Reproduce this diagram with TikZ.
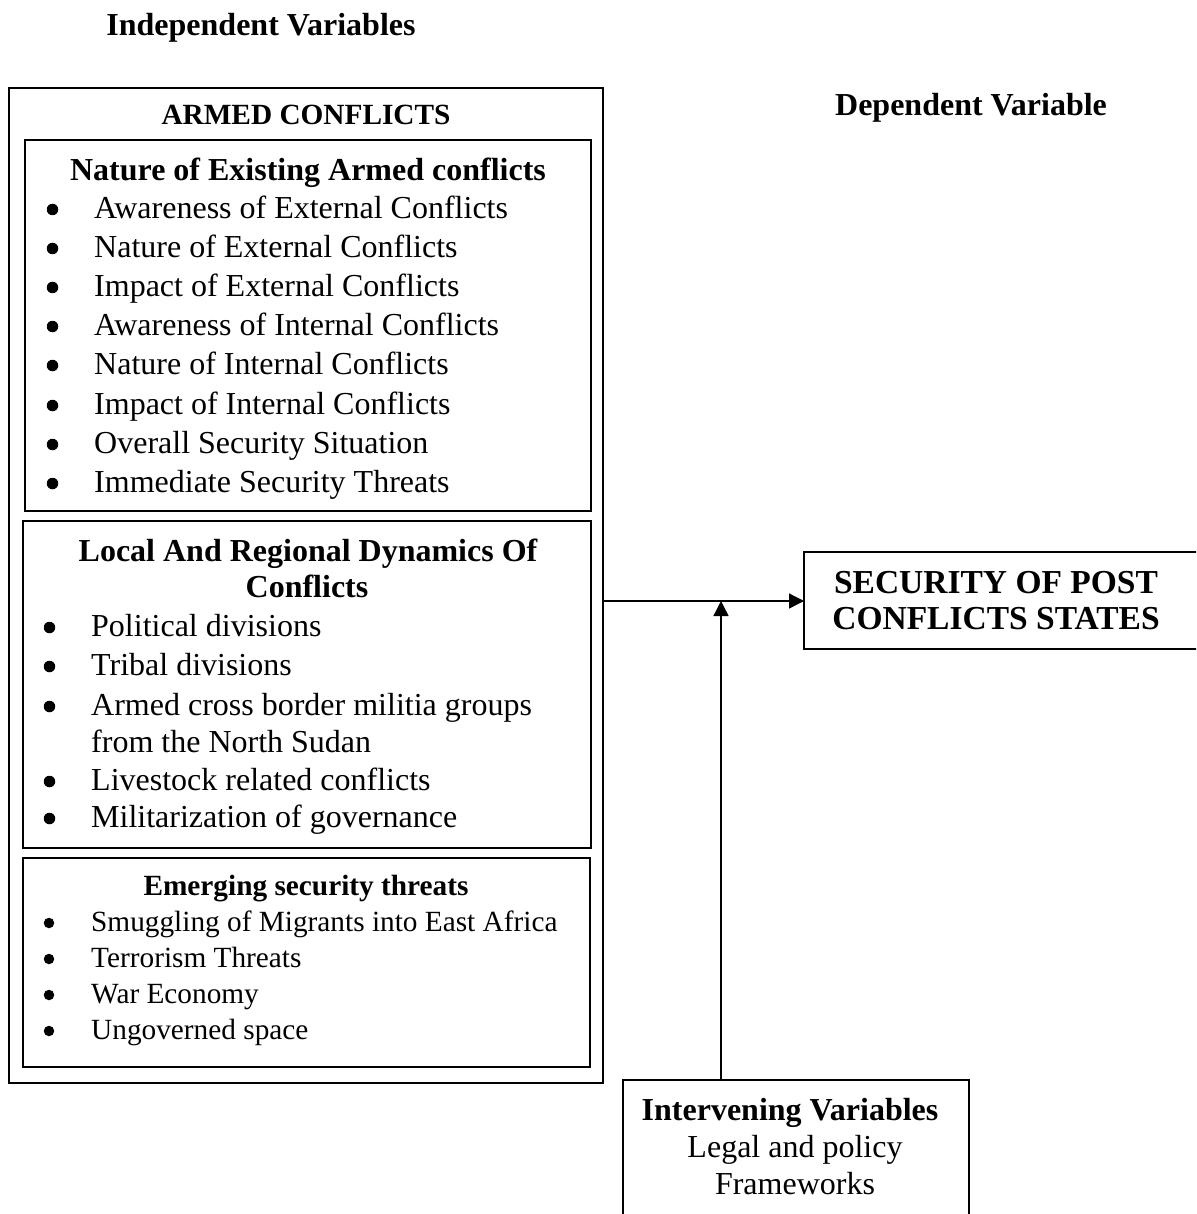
\documentclass[tikz,border=0pt]{standalone}
\usepackage{fontspec}
\setmainfont{Liberation Serif}
\usetikzlibrary{arrows.meta}
\begin{document}
\begin{tikzpicture}[x=1pt,y=-1pt,
  box/.style={draw, line width=1.3pt, inner sep=0pt, outer sep=0pt, anchor=north west},
  ta/.style={font=\fontsize{32}{38}\selectfont, inner sep=0pt, anchor=base west},
  tac/.style={font=\fontsize{32}{38}\selectfont\bfseries, inner sep=0pt, anchor=base},
  tb/.style={font=\fontsize{29.3}{35}\selectfont, inner sep=0pt, anchor=base west},
  tbc/.style={font=\fontsize{29.3}{35}\selectfont\bfseries, inner sep=0pt, anchor=base},
  bula/.style={circle, fill=black, draw=none, inner sep=0pt, minimum size=11.5pt},
  bulb/.style={circle, fill=black, draw=none, inner sep=0pt, minimum size=10.5pt},
  tsec/.style={font=\fontsize{33.5}{36}\selectfont\bfseries, inner sep=0pt, anchor=base},
  arr/.style={line width=1.3pt, -{Triangle[length=15pt,width=15pt]}}
]
\clip (0,0) rectangle (1196,1214);
\useasboundingbox (0,0) rectangle (1196,1214);

% boxes
\node[box, minimum width=594pt, minimum height=995pt] (outer) at (9,88) {};
\node[box, minimum width=566pt, minimum height=371pt] (boxa) at (25,140) {};
\node[box, minimum width=568pt, minimum height=327pt] (boxb) at (23,521) {};
\node[box, minimum width=567pt, minimum height=209pt] (boxc) at (23,858) {};
\node[box, minimum width=420pt, minimum height=97pt] (sec) at (804,552) {};
\node[box, minimum width=346pt, minimum height=160pt] (intv) at (623,1080) {};

% headings
\node[tac] (indep) at (261,25+10.5) {Independent Variables};
\node[tac] (dep) at (971,105+10.5) {Dependent Variable};
\node[tbc] (armed) at (306,115+9.7) {ARMED CONFLICTS};

% box a
\node[tac] (atitle) at (308,170+10.5) {Nature of Existing Armed conflicts};
\foreach [count=\i] \t/\y in {Awareness of External Conflicts/208,
  Nature of External Conflicts/247,
  Impact of External Conflicts/286,
  Awareness of Internal Conflicts/325,
  Nature of Internal Conflicts/364,
  Impact of Internal Conflicts/404,
  Overall Security Situation/443,
  Immediate Security Threats/482} {
  \node[bula] (ab\i) at (52.5,\y+1.5) {};
  \node[ta] (at\i) at (94,\y+10.5) {\t};
}

% box b
\node[tac] (btitle1) at (308,551+10.5) {Local And Regional Dynamics Of};
\node[tac] (btitle2) at (307,587+10.5) {Conflicts};
\foreach [count=\i] \t/\y in {Political divisions/626,
  Tribal divisions/665,
  Armed cross border militia groups/705,
  Livestock related conflicts/780,
  Militarization of governance/817} {
  \node[bula] (bb\i) at (49.5,\y+1.5) {};
  \node[ta] (bt\i) at (91,\y+10.5) {\t};
}
\node[ta] (bt3b) at (91,742+10.5) {from the North Sudan};

% box c
\node[tbc] (ctitle) at (306,886+9.7) {Emerging security threats};
\foreach [count=\i] \t/\y in {Smuggling of Migrants into East Africa/922,
  Terrorism Threats/958,
  War Economy/994,
  Ungoverned space/1030} {
  \node[bulb] (cb\i) at (49,\y+1) {};
  \node[tb] (ct\i) at (91,\y+9.7) {\t};
}

% security box text
\node[tsec] (sec1) at (996,582+11) {SECURITY OF POST};
\node[tsec] (sec2) at (996,618+11) {CONFLICTS STATES};

% intervening text
\node[tac] (iv1) at (790,1110+10.5) {Intervening Variables};
\node[ta, anchor=base] (iv2) at (795,1147+10.5) {Legal and policy};
\node[ta, anchor=base] (iv3) at (795,1184+10.5) {Frameworks};

% connectors
\coordinate (join) at (721,601);
\draw[arr] (outer.east |- join) -- (sec.west |- join);
\draw[arr] (intv.north -| join) -- (join);
\end{tikzpicture}
\end{document}
